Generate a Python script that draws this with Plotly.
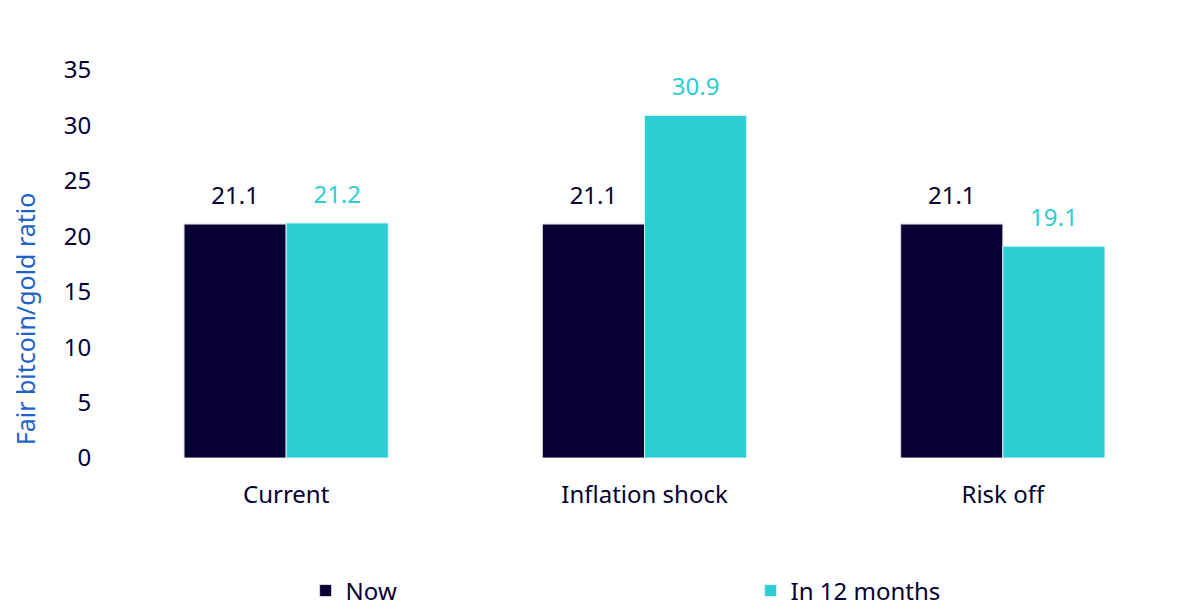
import plotly.graph_objects as go

# Chart data
scenarios = ['Current', 'Inflation shock', 'Risk off']
now_values = [21.1, 21.1, 21.1]
in_12_months_values = [21.2, 30.9, 19.1]

navy = '#060033'
teal = '#2ecdd3'
title_blue = '#1e64c8'
font_family = 'Noto Sans'


def bar_label(v):
    # small base font + trailing empty line lifts the label a bit off the bar
    return f'<span style="font-size:24px">{v:.1f}</span><br> '


now_bars = go.Bar(
    x=scenarios,
    y=now_values,
    name='Now',
    marker=dict(color=navy, line=dict(color='#d9d9e0', width=1)),
    text=[bar_label(v) for v in now_values],
    textposition='outside',
    textfont=dict(color=navy, size=11, family=font_family),
    cliponaxis=False,
)

later_bars = go.Bar(
    x=scenarios,
    y=in_12_months_values,
    name='In 12 months',
    marker=dict(color=teal, line=dict(color='#d9f5f6', width=1)),
    text=[bar_label(v) for v in in_12_months_values],
    textposition='outside',
    textfont=dict(color=teal, size=11, family=font_family),
    cliponaxis=False,
)

layout = go.Layout(
    width=1200,
    height=613,
    font=dict(family=font_family, size=24, color=navy),
    plot_bgcolor='#ffffff',
    paper_bgcolor='#ffffff',
    margin=dict(l=99, r=26, t=62, b=163, autoexpand=False),
    barmode='group',
    bargap=0.43,
    bargroupgap=0,
    uniformtext=dict(mode=False),
    xaxis=dict(
        showgrid=False,
        showline=False,
        automargin=False,
        ticks='outside',
        ticklen=15,
        tickcolor='#ffffff',
        tickfont=dict(size=24, color=navy),
    ),
    yaxis=dict(
        range=[0, 35],
        dtick=5,
        showgrid=False,
        showline=False,
        zeroline=False,
        automargin=False,
        ticks='outside',
        ticklen=10,
        tickcolor='#ffffff',
        tickfont=dict(size=24, color=navy),
    ),
    annotations=[dict(
        text='Fair bitcoin/gold ratio',
        textangle=-90,
        font=dict(size=25, color=title_blue),
        showarrow=False,
        xref='paper',
        yref='paper',
        x=-0.0763,
        y=0.36,
        xanchor='center',
        yanchor='middle',
    )],
    legend=dict(
        orientation='h',
        xref='container',
        yref='container',
        x=0.248,
        xanchor='left',
        y=0.049,
        yanchor='middle',
        entrywidth=400,
        itemwidth=30,
        font=dict(size=24, color=navy),
    ),
)

fig = go.Figure(data=[now_bars, later_bars], layout=layout)
fig.write_html('out.html')
